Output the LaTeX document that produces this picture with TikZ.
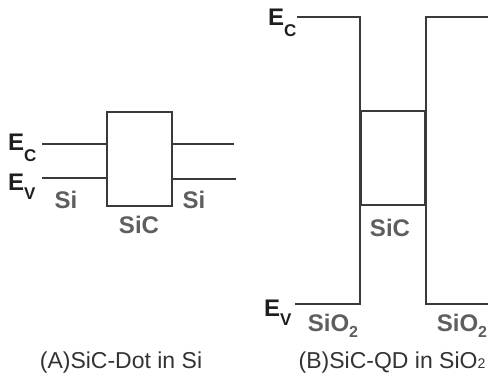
\documentclass[tikz,border=0pt]{standalone}
\usepackage{fontspec}
\setmainfont{Liberation Sans}
\definecolor{linec}{HTML}{3A3A3A}
\definecolor{labc}{HTML}{5E5E5E}
\definecolor{capc}{HTML}{333333}
\definecolor{elabc}{HTML}{1E1E1E}
\newcommand{\elabtxt}[2]{E\raisebox{-#2}{\fontsize{17}{17}\selectfont #1}}
\newcommand{\sioo}{SiO\raisebox{-6pt}{\fontsize{16}{16}\selectfont 2}}
\begin{document}
\begin{tikzpicture}[x=1pt,y=-1pt,
  band/.style={draw=linec, line width=1.9pt},
  elab/.style={font=\fontsize{24}{24}\selectfont\bfseries, text=elabc, inner sep=0pt, anchor=base west},
  mat/.style={font=\fontsize{24}{24}\selectfont\bfseries, text=labc, inner sep=0pt},
  capt/.style={font=\fontsize{23}{23}\selectfont, text=capc, inner sep=0pt, anchor=base}]
\useasboundingbox (0,0) rectangle (488,376);
% ---- panel A ----
\node[band, rectangle, minimum width=65pt, minimum height=94pt, inner sep=0pt] (dot) at (139.5,159) {};
\coordinate (ecA1) at (42,144);
\coordinate (evA1) at (42,178);
\coordinate (ecA2) at (234,144);
\coordinate (evA2) at (236,179);
\draw[band] (ecA1) -- (ecA1 -| dot.west);
\draw[band] (evA1) -- (evA1 -| dot.west);
\draw[band] (dot.east |- ecA2) -- (ecA2);
\draw[band] (dot.east |- evA2) -- (evA2);
\node[elab] (EcA) at (8,150) {\elabtxt{C}{11pt}};
\node[elab] (EvA) at (8,190) {\elabtxt{V}{9pt}};
\node[mat] (siA1) at (66,200) {Si};
\node[mat] (siA2) at (194,200) {Si};
\node[mat] (sicA) at (139,225) {SiC};
\node[capt] (capA) at (121,368) {(A)SiC-Dot in Si};
% ---- panel B ----
\node[band, rectangle, minimum width=64pt, minimum height=94pt, inner sep=0pt] (qd) at (393,158) {};
\coordinate (ecB1) at (297,17);
\coordinate (ecB2) at (489,17);
\coordinate (evB1) at (295,304);
\coordinate (evB2) at (489,304);
\draw[band] (ecB1) -- (ecB1 -| qd.west) -- (evB1 -| qd.west) -- (evB1);
\draw[band] (ecB2) -- (ecB2 -| qd.east) -- (evB2 -| qd.east) -- (evB2);
\node[elab] (EcB) at (268,25) {\elabtxt{C}{11pt}};
\node[elab] (EvB) at (264,316) {\elabtxt{V}{9pt}};
\node[mat] (sicB) at (390,228) {SiC};
\node[mat, anchor=base] (sioB1) at (333,331) {\sioo};
\node[mat, anchor=base] (sioB2) at (462,331) {\sioo};
\node[capt] (capB) at (392,368) {(B)SiC-QD in SiO{\fontsize{14}{14}\selectfont 2}};
\end{tikzpicture}
\end{document}
